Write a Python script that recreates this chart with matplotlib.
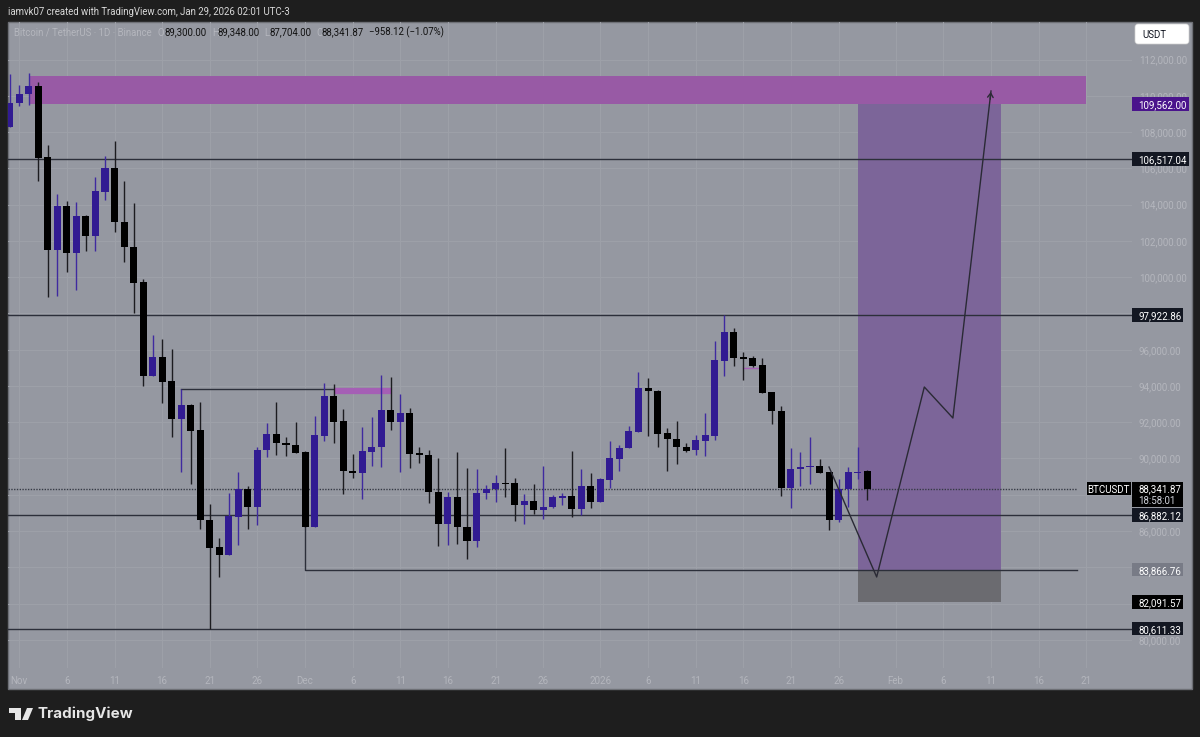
import numpy as np
import matplotlib
matplotlib.use("Agg")
import matplotlib.pyplot as plt
from matplotlib.patches import Rectangle, Polygon, FancyBboxPatch

plt.rcParams['font.family'] = ['Roboto', 'DejaVu Sans']

W, H = 1200, 737
BG = '#1e1e1e'
PANE = '#9598a1'
GRID = '#9da0a8'
FAINT = '#b4b6bd'
BLUE = '#311b92'
LINE = '#2c2f3a'
FS = 7.0

first_day = -1
opens = [108282,109606,110102,110543,106627,101498,103925,101333,103374,102287,104697,106021,103059,101680,99734,94566,95597,94274,92178,92967,91571,86608,85119,84694,86790,88318,87325,90451,91334,90870,90760,90358,86239,91257,93447,92070,89327,89200,90358,90617,92674,92013,92509,90303,90210,88169,86388,87876,86222,85466,88097,88302,88649,88632,87435,87656,87176,87325,87821,87948,87198,88467,87618,88831,89989,90579,91478,93871,93739,91389,91075,90650,90451,90965,91257,95393,96960,95581,95542,95157,93651,92619,88389,89421,89531,89570,89238,86625,88302,89216,89300]
highs = [111205,110571,111260,110791,107289,104587,104201,104146,103429,105524,106699,107510,105320,104091,99899,96827,96607,96039,93833,93000,93132,87490,85632,88114,89255,88483,90634,91958,93116,91185,92013,90413,92344,94164,94108,92730,90248,91753,92288,94605,94494,93557,92785,90650,90468,90044,88152,90358,89492,89404,88538,89090,90562,88924,88042,88593,89586,87987,88080,90397,89404,89184,88924,90965,90744,91809,94770,94423,93780,91665,92068,90838,91296,92492,96480,97930,97180,95890,95636,95542,93660,92895,90562,90342,91202,89972,89250,88869,89531,90617,89348]
lows = [108282,109413,109495,105331,98923,98978,100285,99292,101460,101443,104256,102508,100837,98024,94015,94540,93061,91202,89255,88593,86112,80611,83481,84680,85246,86112,86332,90099,90193,90138,90310,86225,86225,90981,90871,88042,88924,87766,89603,89531,91571,89255,89492,89752,87562,85174,85246,85301,84457,85136,87766,87618,87893,86569,86404,86939,86680,87286,87452,86790,86884,87286,87600,88373,89327,90570,91470,91257,90650,89327,89713,90375,90209,90138,91037,94566,95118,94312,95046,93620,91902,87915,87270,88500,88593,89210,86056,86498,87325,88869,87704]
closes = [109606,110129,110543,106572,101498,103925,101333,103374,102287,104752,106021,103043,101664,99679,94566,95597,94235,92178,92967,91516,86591,85080,84694,86845,88318,87325,90468,91334,90838,90744,90320,86239,91296,93447,92029,89310,89200,90397,90650,92674,92013,92509,90248,90220,88136,86371,87876,86205,85466,88097,88318,88632,88594,87435,87656,87176,87341,87860,87948,87198,88467,87618,88853,90011,90595,91516,93871,93722,91367,91059,90617,90430,91003,91296,95415,96960,95559,95504,95118,93629,92603,88389,89437,89531,89586,89216,86625,88318,89238,89271,88341.87]

price_ticks = list(range(80000, 114000, 2000))
hidden_ticks = [82000, 84000, 88000]
x_ticks = [0,5,10,15,20,25,30,35,40,45,50,55,61,66,71,76,81,86,92,97,102,107,112]
x_labels = ['Nov','6','11','16','21','26','Dec','6','11','16','21','26','2026','6','11','16','21','26','Feb','6','11','16','21']

level_lines = [106517.04, 97922.86, 86882.12, 80611.33]
last_close = 88341.87
zone_top, zone_bottom = 111100, 109562.00
target, entry, stop = 109562.00, 83866.76, 82091.57
path_days = [85, 90, 95, 98, 102]
path_prices = [89530, 83465, 93943, 92233, 110268]

fig = plt.figure(figsize=(W/100, H/100), dpi=100, facecolor=BG)

def fx(x): return x / W
def fy(y): return 1 - y / H

pane = Rectangle((fx(8), fy(689)), 1184/W, 667/H, transform=fig.transFigure,
                 fc=PANE, ec='#6e7076', lw=1, zorder=-5)
fig.add_artist(pane)

ax = fig.add_axes([fx(8), fy(668), 1124/W, 646/H])
ax.set_zorder(1)
ax.patch.set_alpha(0)
ax.set_xlim(-1.18, 116.8)
ax.set_ylim(78446, 114073)
for s in ax.spines.values():
    s.set_visible(False)
ax.set_axisbelow(True)
ax.grid(True, color=GRID, lw=0.8)
ax.yaxis.tick_right()
ax.set_yticks(price_ticks)
ax.set_yticklabels(['' if p in hidden_ticks else f'{p:,.2f}' for p in price_ticks])
ax.set_xticks(x_ticks)
ax.set_xticklabels(x_labels)
ax.tick_params(axis='y', length=0, pad=5, labelsize=FS, labelcolor=FAINT)
ax.tick_params(axis='x', length=0, pad=6, labelsize=FS, labelcolor=FAINT)

# zones and position box
ax.add_patch(Rectangle((1.05, zone_bottom), 110.95, zone_top - zone_bottom, fc='#985aa5', ec='none', zorder=1))
ax.add_patch(Rectangle((88, entry), 15, target - entry, fc='#7c6599', ec='none', zorder=1.1))
ax.add_patch(Rectangle((88, stop), 15, entry - stop, fc='#6b6b70', ec='none', zorder=1.1))

# horizontal levels
for lv in level_lines:
    ax.axhline(lv, color=LINE, lw=1, zorder=2)
ax.plot([17, 33], [93830, 93830], color=LINE, lw=1, zorder=2)
ax.plot([33, 39], [93720, 93720], color='#a55fb5', lw=4.5, solid_capstyle='butt', zorder=2)
ax.plot([76, 77.5], [94980, 94980], color='#a55fb5', lw=1, zorder=2)
ax.plot([30, 30, 111], [86239, entry, entry], color=LINE, lw=1, zorder=2)
ax.plot([-1.18, 111], [last_close, last_close], color='#363a45', lw=1, ls=(0, (1, 1)), zorder=2)

# candles
days = np.arange(first_day, first_day + len(opens))
o, h, l, c = map(np.array, (opens, highs, lows, closes))
up = c >= o
ax.vlines(days[up], l[up], h[up], color='#3f2aa0', lw=1, zorder=3)
ax.vlines(days[~up], l[~up], h[~up], color='#1c1c20', lw=1, zorder=3)
bot = np.minimum(o, c)
tall = np.maximum(np.abs(c - o), 60)
ax.bar(days[up], tall[up], bottom=bot[up], width=0.74, color=BLUE, zorder=4)
ax.bar(days[~up], tall[~up], bottom=bot[~up], width=0.74, color='#000000', zorder=4)

# projected path
ax.plot(path_days, path_prices, color='#2a2a35', lw=1, zorder=5)
ax.annotate('', xy=(path_days[-1], path_prices[-1] + 100), xytext=(path_days[-1] - 0.1, path_prices[-1] - 600),
            arrowprops=dict(arrowstyle='->,head_length=0.3,head_width=0.2', color='#2a2a35', lw=1), zorder=5)

# price labels
tr = ax.get_yaxis_transform()
def box(price, label, fc, width, color='white', x0=1132, tx=1138.5):
    ax.add_patch(Rectangle(((x0 - 8) / 1124, price - 370), width / 1124, 740, transform=tr,
                           fc=fc, ec='none', clip_on=False, zorder=9))
    ax.text((tx - 8) / 1124, price, label, transform=tr, color=color, fontsize=FS,
            ha='left', va='center_baseline', zorder=10)

box(109562.00, '109,562.00', '#4a148c', 57)
box(106517.04, '106,517.04', '#131722', 57)
box(97922.86, '97,922.86', '#131722', 51.5)
box(86882.12, '86,882.12', '#131722', 51.5)
box(83866.76, '83,866.76', '#787b86', 51.5)
box(82091.57, '82,091.57', '#000000', 51.5)
box(80611.33, '80,611.33', '#131722', 51.5)
ax.add_patch(Rectangle((1124 / 1124, last_close - 990), 51.5 / 1124, 1330, transform=tr, fc='#000000',
                       ec='none', clip_on=False, zorder=9))
ax.text(1130.5 / 1124, last_close, '88,341.87', transform=tr, color='white', fontsize=FS, va='center_baseline', zorder=10)
ax.text(1130.5 / 1124, last_close - 640, '18:58:01', transform=tr, color='#d1d4dc', fontsize=FS, va='center_baseline', zorder=10)
ax.add_patch(Rectangle((1079 / 1124, last_close - 370), 44 / 1124, 740, transform=tr, fc='#000000',
                       ec='none', clip_on=False, zorder=9))
ax.text(1101 / 1124, last_close, 'BTCUSDT', transform=tr, color='white', fontsize=FS, ha='center', va='center_baseline', zorder=10)

# header and footer
HFS = 6.9
fig.text(fx(8), fy(12), 'iamvk07 created with TradingView.com, Jan 29, 2026 02:01 UTC-3', color='#d8d8d8',
         fontsize=HFS, va='center', zorder=3)
fig.text(fx(14), fy(32.5), 'Bitcoin / TetherUS · 1D · Binance', color=FAINT, fontsize=HFS, va='center', zorder=3)
for x, t, col in [(158, 'O', FAINT), (164.5, '89,300.00', '#111111'), (212, 'H', FAINT), (217, '89,348.00', '#111111'),
                  (264, 'L', FAINT), (269, '87,704.00', '#111111'), (316, 'C', FAINT), (321.5, '88,341.87', '#111111'),
                  (369, '−958.12 (−1.07%)', '#111111')]:
    fig.text(fx(x), fy(32.5), t, color=col, fontsize=HFS, va='center', zorder=3)

fig.add_artist(FancyBboxPatch((1136, H - 43), 52, 18, boxstyle='round,pad=1,rounding_size=3',
                              transform=None, fc='white', ec='#d0d0d0', lw=0.5, zorder=2))
fig.text(fx(1142), fy(34.5), 'USDT', color='#131722', fontsize=HFS, va='center', zorder=3)

LOGO = '#e6e6e6'
fig.add_artist(Polygon([(fx(9), fy(708)), (fx(21), fy(708)), (fx(21), fy(720)), (fx(15), fy(720)), (fx(15), fy(713)), (fx(9), fy(713))],
                       closed=True, transform=fig.transFigure, fc=LOGO, ec='none'))
fig.add_artist(Polygon([(fx(27), fy(708)), (fx(33), fy(708)), (fx(28), fy(720)), (fx(22), fy(720))],
                       closed=True, transform=fig.transFigure, fc=LOGO, ec='none'))
fig.text(fx(38), fy(713.5), 'TradingView', color=LOGO, fontsize=10.9, family=['Inter', 'DejaVu Sans'], fontweight='bold', va='center', zorder=3)

fig.savefig('out.png', dpi=100, facecolor=BG)
